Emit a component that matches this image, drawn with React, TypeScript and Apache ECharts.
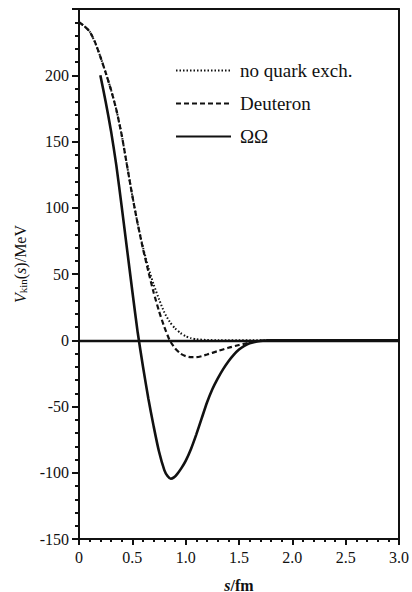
import React, { useEffect, useRef } from "react";
import * as echarts from "echarts";

const xNoQuark = [0, 0.05, 0.1, 0.15, 0.2, 0.25, 0.3, 0.35, 0.4, 0.45, 0.5, 0.55, 0.6, 0.65, 0.7, 0.75, 0.8, 0.85, 0.9, 0.95, 1.0, 1.05, 1.1, 1.2, 1.3, 3.0];
const yNoQuark = [240, 237, 233, 225, 214, 202, 189, 174, 155, 132, 109, 88, 70, 55, 42, 31, 21, 14, 9, 5.5, 3, 1.6, 0.8, 0.2, 0, 0];

const xDeuteron = [0, 0.05, 0.1, 0.15, 0.2, 0.25, 0.3, 0.35, 0.4, 0.45, 0.5, 0.55, 0.6, 0.65, 0.7, 0.75, 0.8, 0.85, 0.9, 0.95, 1.0, 1.05, 1.1, 1.15, 1.2, 1.3, 1.4, 1.5, 1.6, 1.7, 1.8, 3.0];
const yDeuteron = [240, 237, 233, 225, 214, 202, 189, 174, 155, 132, 109, 88, 69, 52, 36, 22, 10, 0, -6, -10, -12, -12.8, -12.8, -12, -10.8, -8.2, -5.7, -3.6, -1.7, -0.4, 0, 0];

const xOmega = [0.2, 0.25, 0.3, 0.35, 0.4, 0.45, 0.5, 0.55, 0.6, 0.65, 0.7, 0.75, 0.8, 0.83, 0.86, 0.89, 0.92, 0.96, 1.0, 1.05, 1.1, 1.15, 1.2, 1.25, 1.3, 1.35, 1.4, 1.45, 1.5, 1.55, 1.6, 1.7, 1.8, 3.0];
const yOmega = [200, 180, 158, 132, 101, 69, 37, 6, -20, -44, -65, -84, -98, -102.5, -104.5, -103.5, -101, -96.5, -91, -82, -71, -59, -47, -37, -29, -22, -16, -11, -7, -4.2, -2.3, -0.5, 0, 0];

const seriesNames = ["no quark exch.", "Deuteron", "ΩΩ"];
const xTicks = [0, 0.5, 1.0, 1.5, 2.0, 2.5, 3.0];
const yTicks = [-150, -100, -50, 0, 50, 100, 150, 200];

const zip = (xs: number[], ys: number[]) => xs.map((x, i) => [x, ys[i]]);

const FONT = "Liberation Serif";
const INK = "#111111";

const X_RANGE = { type: "value", min: 0, max: 3, interval: 0.5 };
const Y_RANGE = { type: "value", min: -150, max: 250, interval: 50 };

const frameAxis = {
  show: true,
  axisLine: { show: true, onZero: false, lineStyle: { color: INK, width: 2 } },
  axisTick: { show: false },
  minorTick: { show: false },
  axisLabel: { show: false },
  splitLine: { show: false },
};

export default function App() {
  const ref = useRef<HTMLDivElement>(null);
  useEffect(() => {
    if (!ref.current) return;
    const chart = echarts.init(ref.current, undefined, { renderer: "svg" });
    chart.setOption({
      animation: false,
      backgroundColor: "#ffffff",
      textStyle: { fontFamily: FONT, color: INK },
      grid: {
        left: 79,
        right: 13,
        top: 9,
        bottom: 53,
        show: false,
        containLabel: false,
        outerBoundsMode: "none",
      },
      legend: {
        orient: "vertical",
        left: 175,
        top: 61,
        padding: 0,
        itemWidth: 55,
        itemHeight: 14,
        itemGap: 14,
        data: seriesNames,
        itemStyle: { opacity: 0 },
        textStyle: { fontFamily: FONT, fontSize: 19, color: INK, padding: [0, 0, 0, 4] },
      },
      xAxis: [
        {
          ...X_RANGE,
          position: "bottom",
          name: "{i|s}/fm",
          nameLocation: "middle",
          nameGap: 38,
          nameTextStyle: {
            fontFamily: FONT,
            fontSize: 16,
            fontWeight: "bold",
            color: INK,
            rich: {
              i: { fontFamily: FONT, fontSize: 16, fontWeight: "bold", fontStyle: "italic", color: INK },
            },
          },
          axisLine: { show: true, onZero: false, lineStyle: { color: INK, width: 2 } },
          axisTick: { show: true, inside: false, length: 6, lineStyle: { color: INK, width: 2 } },
          minorTick: { show: true, splitNumber: 5, length: 3, lineStyle: { color: INK, width: 2 } },
          splitLine: { show: false },
          axisLabel: {
            margin: 10,
            fontFamily: FONT,
            fontSize: 16,
            color: INK,
            formatter: (v: number) => (xTicks.includes(v) ? (v === 0 ? "0" : v.toFixed(1)) : ""),
          },
        },
        { ...X_RANGE, position: "top", ...frameAxis },
      ],
      yAxis: [
        {
          ...Y_RANGE,
          position: "left",
          name: "{i|V}{sub|kin}({i|s})/MeV",
          nameLocation: "middle",
          nameGap: 46,
          nameRotate: 90,
          nameTextStyle: {
            fontFamily: FONT,
            fontSize: 16,
            color: INK,
            padding: [0, 0, 0, 20],
            rich: {
              i: { fontFamily: FONT, fontSize: 16, fontStyle: "italic", color: INK },
              sub: { fontFamily: FONT, fontSize: 11, color: INK, verticalAlign: "bottom", padding: [6, 0, 0, 0] },
            },
          },
          axisLine: { show: true, onZero: false, lineStyle: { color: INK, width: 2 } },
          axisTick: { show: true, inside: false, length: 7, lineStyle: { color: INK, width: 2 } },
          minorTick: { show: true, splitNumber: 5, length: 4, lineStyle: { color: INK, width: 2 } },
          splitLine: { show: false },
          axisLabel: {
            margin: 10,
            fontFamily: FONT,
            fontSize: 16,
            color: INK,
            formatter: (v: number) => (yTicks.includes(v) ? String(v) : ""),
          },
        },
        { ...Y_RANGE, position: "right", ...frameAxis },
      ],
      series: [
        {
          name: seriesNames[0],
          type: "line",
          data: zip(xNoQuark, yNoQuark),
          symbol: "none",
          smooth: 0.2,
          itemStyle: { color: INK },
          lineStyle: { color: INK, width: 2, type: [1.5, 2] },
          z: 3,
        },
        {
          name: seriesNames[1],
          type: "line",
          data: zip(xDeuteron, yDeuteron),
          symbol: "none",
          smooth: 0.2,
          itemStyle: { color: INK },
          lineStyle: { color: INK, width: 2.2, type: [5, 3] },
          z: 4,
        },
        {
          name: seriesNames[2],
          type: "line",
          data: zip(xOmega, yOmega),
          symbol: "none",
          smooth: 0.2,
          itemStyle: { color: INK },
          lineStyle: { color: INK, width: 2.6, type: "solid" },
          z: 5,
          markLine: {
            silent: true,
            symbol: "none",
            label: { show: false },
            lineStyle: { color: INK, width: 2.4, type: "solid" },
            data: [{ yAxis: 0 }],
          },
        },
      ],
    });
    return () => chart.dispose();
  }, []);
  return (
    <div
      ref={ref}
      style={{ position: "absolute", left: 0, top: 0, width: 412, height: 592 }}
    />
  );
}
